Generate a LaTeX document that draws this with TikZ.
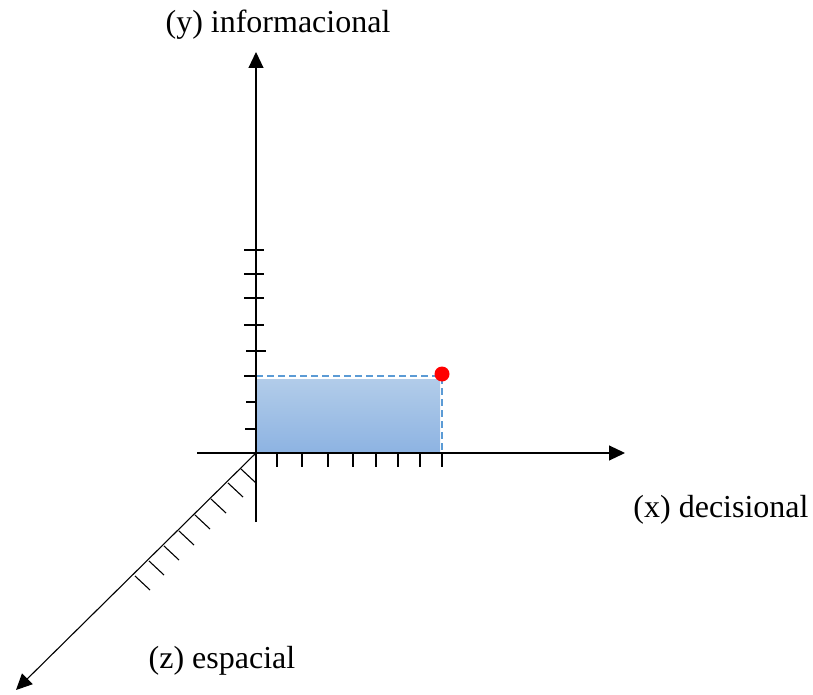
\documentclass[tikz,border=0pt]{standalone}
\usepackage{fontspec}
\setmainfont{Liberation Serif}
\usetikzlibrary{arrows.meta}
\definecolor{dashblue}{HTML}{5B9BD5}
\definecolor{filltop}{HTML}{B2CCE9}
\definecolor{fillbot}{HTML}{8DB3E2}
\begin{document}
\begin{tikzpicture}[x=1pt,y=-1pt,
  axis/.style={line width=1.1pt,black,-{Triangle[length=16pt,width=15pt]}},
  tick/.style={line width=1.1pt,black},
  lab/.style={anchor=base,inner sep=0pt,font=\fontsize{32}{36}\selectfont}]
\useasboundingbox (0,0) rectangle (813,695);
% reference points
\coordinate (O) at (256,453);
\coordinate (ybot) at (256,522);
\coordinate (ytip) at (256,52);
\coordinate (xleft) at (197,453);
\coordinate (xtip) at (625,453);
\coordinate (ztip) at (16,690);
\coordinate (P) at (442,376);
% shaded rectangle
\shade[top color=filltop,bottom color=fillbot] (257,379) rectangle (440,453);
\draw[dashblue,line width=1.2pt,dash pattern=on 7pt off 4pt] (O |- P) -- (P) -- (P |- O);
% axes
\draw[axis] (ybot) -- (ytip);
\draw[axis] (xleft) -- (xtip);
\draw[axis] (O) -- (ztip);
% y ticks
\foreach \yy/\a/\b in {250/244/264,274/244/264,298/244/264,325/244/264,351/246/266,376/244/256,402/246/257,429/245/257}
  \draw[tick] (\a,\yy) -- (\b,\yy);
% x ticks
\foreach \xx in {277,302,328,353,376,398,420,442}
  \draw[tick] (\xx,453) -- (\xx,467);
% z ticks
\foreach \xx/\yy in {241/469,228/483,211/499,195/515,179/531,164/546,149/561,135/576}
  \draw[tick] (\xx,\yy) -- ++(15,14);
% red point
\fill[red] (P) ++(0,-2) circle (7.5pt);
% labels
\node[lab] (ylab) at (278,33) {(y) informacional};
\node[lab] (xlab) at (721,517) {(x) decisional};
\node[lab] (zlab) at (222,668) {(z) espacial};
\end{tikzpicture}
\end{document}
